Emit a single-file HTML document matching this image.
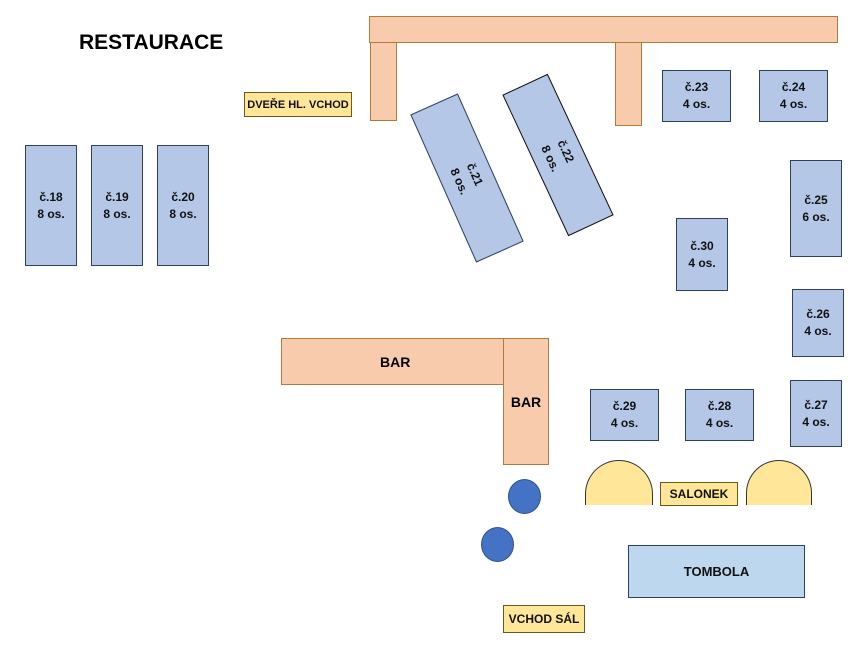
<!DOCTYPE html>
<html><head><meta charset="utf-8"><style>
body{margin:0;width:861px;height:647px;background:#fff;position:relative;overflow:hidden;font-family:"Liberation Sans",sans-serif;}
div{position:absolute;box-sizing:border-box;}
.t{background:#b4c7e7;border:1px solid #2f3f5f;display:flex;align-items:center;justify-content:center;text-align:center;font-weight:bold;font-size:12px;line-height:17px;color:#111;}
.o{background:#f8cbad;border:1px solid #b07a3a;}
.y{background:#ffe699;border:1px solid #6b5a1a;display:flex;align-items:center;justify-content:center;font-weight:bold;font-size:12px;color:#111;}
.c{background:#4472c4;border:1px solid #2f528f;border-radius:50%;}
.s{background:#ffe699;border:1px solid #333;border-radius:34px 34px 0 0;border-bottom:none;}
</style></head><body>
<div style="left:79px;top:31px;font-weight:bold;font-size:21px;">RESTAURACE</div>
<div class="o" style="left:369px;top:16px;width:469px;height:27px;"></div>
<div class="o" style="left:370px;top:42px;width:27px;height:79px;"></div>
<div class="o" style="left:615px;top:42px;width:27px;height:84px;"></div>
<div class="y" style="left:244px;top:92px;width:108px;height:25px;font-size:11px;">DVEŘE HL. VCHOD</div>
<div class="t" style="left:25px;top:145px;width:52px;height:121px;">č.18<br>8 os.</div>
<div class="t" style="left:91px;top:145px;width:52px;height:121px;">č.19<br>8 os.</div>
<div class="t" style="left:157px;top:145px;width:52px;height:121px;">č.20<br>8 os.</div>
<div class="t" style="left:441px;top:97px;width:52px;height:162px;transform:rotate(-24deg);"><span style="transform:rotate(90deg);display:block;white-space:nowrap;">č.21<br>8 os.</span></div>
<div class="t" style="left:533px;top:77px;width:50px;height:156px;transform:rotate(-25deg);border-color:#111;"><span style="transform:rotate(90deg);display:block;white-space:nowrap;">č.22<br>8 os.</span></div>
<div class="t" style="left:662px;top:70px;width:69px;height:52px;">č.23<br>4 os.</div>
<div class="t" style="left:759px;top:70px;width:69px;height:52px;">č.24<br>4 os.</div>
<div class="t" style="left:790px;top:160px;width:52px;height:97px;">č.25<br>6 os.</div>
<div class="t" style="left:676px;top:218px;width:52px;height:73px;">č.30<br>4 os.</div>
<div class="t" style="left:792px;top:289px;width:52px;height:68px;">č.26<br>4 os.</div>
<div class="t" style="left:790px;top:380px;width:52px;height:67px;">č.27<br>4 os.</div>
<div class="t" style="left:590px;top:389px;width:69px;height:52px;">č.29<br>4 os.</div>
<div class="t" style="left:685px;top:389px;width:69px;height:52px;">č.28<br>4 os.</div>
<div class="o" style="left:281px;top:338px;width:268px;height:47px;display:flex;align-items:center;padding-left:98px;font-weight:bold;font-size:14px;">BAR</div>
<div class="o" style="left:503px;top:338px;width:46px;height:127px;display:flex;align-items:center;justify-content:center;font-weight:bold;font-size:14px;">BAR</div>
<div class="c" style="left:508px;top:479px;width:33px;height:35px;"></div>
<div class="c" style="left:481px;top:527px;width:33px;height:35px;"></div>
<div class="s" style="left:585px;top:460px;width:68px;height:45px;"></div>
<div class="s" style="left:746px;top:460px;width:66px;height:45px;"></div>
<div class="y" style="left:660px;top:482px;width:78px;height:24px;">SALONEK</div>
<div class="t" style="left:628px;top:545px;width:177px;height:53px;background:#bdd7ee;font-size:13px;">TOMBOLA</div>
<div class="y" style="left:503px;top:605px;width:82px;height:28px;">VCHOD SÁL</div>
</body></html>
